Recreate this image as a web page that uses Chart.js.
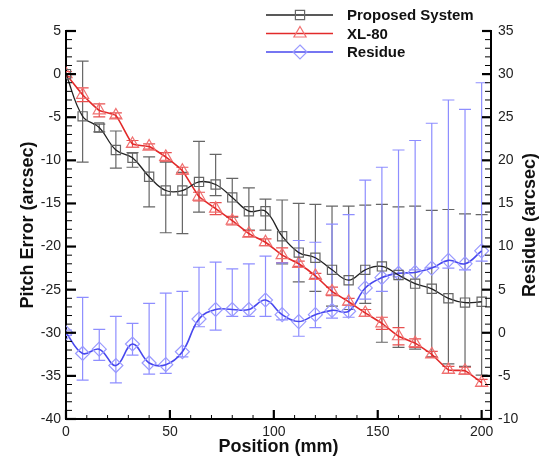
<!DOCTYPE html>
<html>
<head>
<meta charset="utf-8">
<script src="https://cdn.jsdelivr.net/npm/chart.js@4.4.1/dist/chart.umd.min.js"></script>
<style>
html, body { margin: 0; padding: 0; background: #fff; }
#wrap { width: 546px; height: 463px; }
</style>
</head>
<body>
<div id="wrap"><canvas id="pitchChart" width="546" height="463"></canvas></div>
<script>
// positions along the stage (mm)
var positions = [0, 8, 16, 24, 32, 40, 48, 56, 64, 72, 80, 88, 96, 104, 112, 120, 128, 136, 144, 152, 160, 168, 176, 184, 192, 200];

// proposed system pitch error (arcsec) and its error bar ends
var proposed   = [0, -4.9, -6.2, -8.8, -9.7, -11.9, -13.5, -13.5, -12.5, -12.8, -14.3, -15.9, -15.9, -18.8, -20.7, -21.3, -22.7, -23.9, -22.7, -22.3, -23.3, -24.3, -24.9, -26.0, -26.5, -26.4];
var proposedHi = [0.3, 1.5, -5.8, -6.6, -9.1, -9.6, -10.2, -11.4, -7.8, -9.3, -12.1, -13.2, -14.5, -14.6, -15.0, -15.1, -15.3, -15.3, -15.2, -15.1, -15.4, -15.3, -15.8, -15.7, -16.2, -16.3];
var proposedLo = [-0.3, -10.2, -6.7, -10.9, -10.8, -15.4, -18.4, -18.5, -16.0, -14.1, -16.6, -18.1, -18.1, -22.0, -24.1, -25.2, -26.9, -27.3, -26.6, -31.1, -31.7, -31.9, -32.8, -33.6, -33.9, -34.9];

// XL-80 laser reference (arcsec) and +/- spread
var xl80    = [0, -2.4, -4.2, -4.8, -8.1, -8.4, -9.6, -11.2, -14.2, -15.6, -17.0, -18.5, -19.5, -21.0, -22.0, -23.4, -25.2, -26.4, -27.7, -28.9, -30.4, -31.2, -32.5, -34.3, -34.4, -35.8];
var xl80Err = [0.3, 0.8, 0.75, 0.3, 0.4, 0.3, 0.5, 0.4, 0.5, 0.7, 0.5, 0.35, 0.4, 0.85, 0.3, 0.3, 0.5, 0.4, 0.4, 0.7, 1.0, 0.5, 0.35, 0.4, 0.4, 0.4];

// residue (right axis, arcsec) and its error bar ends
var residue   = [0, -2.4, -1.9, -3.8, -1.3, -3.5, -3.7, -2.2, 1.6, 2.7, 2.7, 2.7, 3.8, 2.1, 1.3, 2.1, 2.6, 2.5, 5.2, 6.4, 6.9, 7.0, 7.5, 8.4, 8.0, 9.5];
var residueHi = [0.3, 4.1, 0.4, 1.9, 1.1, 3.4, 4.6, 4.8, 7.6, 8.2, 7.4, 8.0, 8.9, 8.1, 10.7, 10.5, 12.6, 13.7, 17.7, 19.2, 21.2, 22.3, 24.3, 27.0, 25.9, 29.0];
var residueLo = [-0.3, -5.5, -3.2, -5.8, -2.6, -4.8, -4.7, -2.8, 0.7, 0.3, 1.9, 1.9, 1.9, 1.5, -0.4, 0.6, 1.7, 1.8, 3.9, 4.8, 6.5, 7.3, 7.6, 7.5, 7.3, 8.3];

// tick labels
var xTicks = [0, 50, 100, 150, 200];
var pitchTicks = [-40, -35, -30, -25, -20, -15, -10, -5, 0, 5];
var residueTicks = [-10, -5, 0, 5, 10, 15, 20, 25, 30, 35];

var FONT = "'Liberation Sans', Arial, Helvetica, sans-serif";

function pts(ys) {
    return positions.map(function (x, i) { return { x: x, y: ys[i] }; });
}

// vertical error bars with caps, drawn under the lines
var errorBars = {
    id: 'errorBars',
    beforeDatasetsDraw: function (chart) {
        var ctx = chart.ctx, a = chart.chartArea, xs = chart.scales.x;
        chart.data.datasets.forEach(function (ds) {
            var ys = chart.scales[ds.yAxisID];
            ctx.save();
            ctx.beginPath();
            ctx.rect(a.left, a.top - 20, a.right - a.left, a.bottom - a.top + 20);
            ctx.clip();
            ctx.strokeStyle = ds.errColor;
            ctx.lineWidth = 1.2;
            ds.data.forEach(function (p, j) {
                var px = xs.getPixelForValue(p.x);
                var t = ys.getPixelForValue(ds.errHi[j]);
                var b = ys.getPixelForValue(ds.errLo[j]);
                ctx.beginPath();
                ctx.moveTo(px, t); ctx.lineTo(px, b);
                ctx.moveTo(px - 6, t); ctx.lineTo(px + 6, t);
                ctx.moveTo(px - 6, b); ctx.lineTo(px + 6, b);
                ctx.stroke();
            });
            ctx.restore();
        });
    }
};

// inward tick marks on the three axes, plus the right title read bottom-to-top
var tickMarks = {
    id: 'tickMarks',
    afterDraw: function (chart) {
        var ctx = chart.ctx, a = chart.chartArea;
        var sx = chart.scales.x, sy = chart.scales.y, sy2 = chart.scales.y2;
        function mark(x1, y1, x2, y2, w) {
            ctx.lineWidth = w;
            ctx.beginPath(); ctx.moveTo(x1, y1); ctx.lineTo(x2, y2); ctx.stroke();
        }
        ctx.save();
        ctx.strokeStyle = '#000';
        var v, p, major;
        for (v = 0; v <= 200; v += 10) {
            p = sx.getPixelForValue(v); major = v % 50 === 0;
            mark(p, a.bottom, p, a.bottom - (major ? 9 : 4), major ? 2.2 : 1);
        }
        for (v = -40; v <= 5; v++) {
            p = sy.getPixelForValue(v); major = v % 5 === 0;
            mark(a.left, p, a.left + (major ? 10 : 6), p, major ? 2.2 : 1);
        }
        for (v = -10; v <= 35; v++) {
            p = sy2.getPixelForValue(v); major = v % 5 === 0;
            mark(a.right, p, a.right - (major ? 9 : 6), p, major ? 2.2 : 1);
        }
        ctx.restore();

        ctx.save();
        ctx.translate(530, (a.top + a.bottom) / 2);
        ctx.rotate(-Math.PI / 2);
        ctx.fillStyle = '#111';
        ctx.font = 'bold 18px ' + FONT;
        ctx.textAlign = 'center';
        ctx.textBaseline = 'middle';
        ctx.fillText('Residue (arcsec)', 0, 0);
        ctx.restore();
    }
};

function marker(ctx, shape, x, y, color) {
    ctx.strokeStyle = color;
    ctx.lineWidth = 1.2;
    ctx.beginPath();
    if (shape === 'rect') {
        ctx.rect(x - 4.6, y - 4.6, 9.2, 9.2);
    } else if (shape === 'triangle') {
        ctx.moveTo(x, y - 7); ctx.lineTo(x + 6.1, y + 3.5); ctx.lineTo(x - 6.1, y + 3.5); ctx.closePath();
    } else {
        ctx.moveTo(x, y - 7); ctx.lineTo(x + 7, y); ctx.lineTo(x, y + 7); ctx.lineTo(x - 7, y); ctx.closePath();
    }
    ctx.stroke();
}

// legend: line sample with marker in the middle, bold label to the right
var lineLegend = {
    id: 'lineLegend',
    afterDraw: function (chart) {
        var ctx = chart.ctx;
        var rowY = [15, 33.5, 52];
        ctx.save();
        chart.data.datasets.forEach(function (ds, i) {
            var y = rowY[i];
            ctx.strokeStyle = ds.borderColor;
            ctx.lineWidth = 1.5;
            ctx.beginPath(); ctx.moveTo(266, y); ctx.lineTo(333, y); ctx.stroke();
            marker(ctx, ds.pointStyle, 300, y, ds.pointBorderColor);
            ctx.fillStyle = '#111';
            ctx.font = 'bold 15px ' + FONT;
            ctx.textBaseline = 'middle';
            ctx.textAlign = 'left';
            ctx.fillText(ds.label, 347, y + 1);
        });
        ctx.restore();
    }
};

var ctxPitch = document.getElementById('pitchChart').getContext('2d');
var pitchChart = new Chart(ctxPitch, {
    type: 'line',
    data: {
        datasets: [{
            label: 'Proposed System',
            data: pts(proposed),
            yAxisID: 'y',
            borderColor: '#222222',
            borderWidth: 1.3,
            pointStyle: 'rect',
            pointRadius: 6.5,
            pointBorderColor: '#666666',
            pointBorderWidth: 1.2,
            pointBackgroundColor: 'rgba(0,0,0,0)',
            tension: 0.4,
            errHi: proposedHi,
            errLo: proposedLo,
            errColor: '#666666'
        }, {
            label: 'XL-80',
            data: pts(xl80),
            yAxisID: 'y',
            borderColor: '#e22a2a',
            borderWidth: 1.6,
            pointStyle: 'triangle',
            pointRadius: 7,
            pointBorderColor: '#f07070',
            pointBorderWidth: 1.2,
            pointBackgroundColor: 'rgba(0,0,0,0)',
            tension: 0.15,
            errHi: xl80.map(function (v, i) { return v + xl80Err[i]; }),
            errLo: xl80.map(function (v, i) { return v - xl80Err[i]; }),
            errColor: '#e85050'
        }, {
            label: 'Residue',
            data: pts(residue),
            yAxisID: 'y2',
            borderColor: '#4848ee',
            borderWidth: 1.6,
            pointStyle: 'rectRot',
            pointRadius: 7,
            pointBorderColor: '#9a9aff',
            pointBorderWidth: 1.2,
            pointBackgroundColor: 'rgba(0,0,0,0)',
            tension: 0.4,
            errHi: residueHi,
            errLo: residueLo,
            errColor: '#8e8eff'
        }]
    },
    options: {
        responsive: false,
        animation: false,
        devicePixelRatio: 1,
        layout: { padding: { top: 31, left: 0, right: 0, bottom: 0 } },
        plugins: { legend: { display: false }, tooltip: { enabled: false } },
        scales: {
            x: {
                type: 'linear',
                min: 0,
                max: 204.5,
                afterBuildTicks: function (s) { s.ticks = xTicks.map(function (v) { return { value: v }; }); },
                afterFit: function (s) { s.height = 44; },
                grid: { display: false, drawTicks: false },
                border: { display: true, color: '#000', width: 2 },
                ticks: { color: '#222', padding: 5, maxRotation: 0, font: { family: FONT, size: 14 } },
                title: { display: true, text: 'Position (mm)', color: '#111', padding: { bottom: 5 }, font: { family: FONT, size: 18, weight: 'bold' } }
            },
            y: {
                position: 'left',
                min: -40,
                max: 5,
                afterBuildTicks: function (s) { s.ticks = pitchTicks.map(function (v) { return { value: v }; }); },
                afterFit: function (s) { s.width = 66; },
                grid: { display: false, drawTicks: false },
                border: { display: true, color: '#000', width: 2 },
                ticks: { color: '#222', padding: 5, font: { family: FONT, size: 14 } },
                title: { display: true, text: 'Pitch Error (arcsec)', color: '#111', padding: { top: 17 }, font: { family: FONT, size: 18, weight: 'bold' } }
            },
            y2: {
                position: 'right',
                min: -10,
                max: 35,
                afterBuildTicks: function (s) { s.ticks = residueTicks.map(function (v) { return { value: v }; }); },
                afterFit: function (s) { s.width = 55; },
                grid: { display: false, drawTicks: false },
                border: { display: true, color: '#000', width: 2 },
                ticks: { color: '#222', padding: 7, font: { family: FONT, size: 14 } },
                title: { display: false }
            }
        }
    },
    plugins: [errorBars, tickMarks, lineLegend]
});
</script>
</body>
</html>
